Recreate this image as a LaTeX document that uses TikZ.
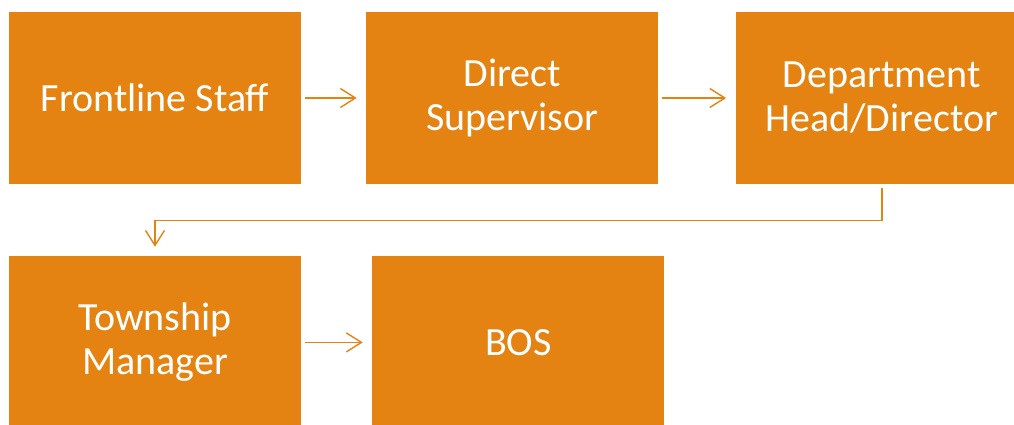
\documentclass[tikz,border=0pt]{standalone}
\usepackage{fontspec}
\setmainfont{Carlito}
\usetikzlibrary{positioning,arrows.meta}
\definecolor{boxorange}{HTML}{E48312}
\tikzstyle{block} = [rectangle, fill=boxorange, text=white, align=center,
    minimum width=292pt, minimum height=172pt, inner sep=0pt,
    font=\fontsize{40}{44}\selectfont]
\tikzstyle{line} = [draw=boxorange, line width=1.4pt,
    -{Straight Barb[length=15pt,width=19pt]}, shorten <=3.5pt, shorten >=9.5pt]

\begin{document}
\begin{tikzpicture}[x=1pt, y=-1pt]
	\useasboundingbox (0,0) rectangle (1014,424);

	\node [block] (front) at (155,98) {Frontline Staff};
	\node [block, right=65pt of front] (super) {Direct\\Supervisor};
	\node [block, right=77pt of super] (head) {Department\\Head/Director};

	\node [block, below=72pt of front] (manager) {Township\\Manager};
	\node [block, right=71pt of manager] (bos) {BOS};

	\path [line] (front) -- (super);
	\path [line] (super) -- (head);
	\path [line] (head.south) -- ++(0,-36pt) -| (manager.north);
	\path [line] (manager) -- (bos);
\end{tikzpicture}
\end{document}
